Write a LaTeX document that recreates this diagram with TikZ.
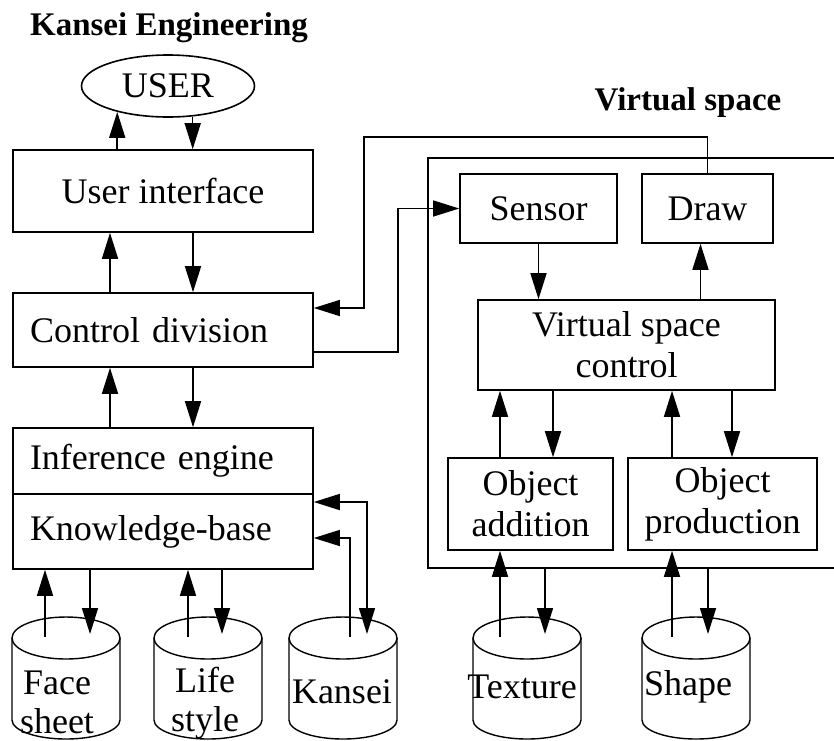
\documentclass[tikz,border=0pt]{standalone}
\usepackage{fontspec}
\setmainfont{Liberation Serif}
\usetikzlibrary{arrows.meta,shapes.geometric}

\begin{document}
\begin{tikzpicture}[x=1pt,y=-1pt,line width=1.6pt,
  arr/.style={-{Triangle[length=26pt,width=16pt]}},
  arrs/.style={{Triangle[length=26pt,width=16pt]}-{Triangle[length=26pt,width=16pt]}},
  box/.style={draw,rectangle,inner sep=0pt,font=\fontsize{36}{41}\selectfont,align=center},
  lbox/.style={box,align=left,inner xsep=17pt,text width=266pt},
  head/.style={font=\bfseries\fontsize{33}{36}\selectfont},
  lbl/.style={inner sep=0pt,font=\fontsize{36}{39}\selectfont,align=center}]
\useasboundingbox (0,0) rectangle (834,740);
% titles
\node[head] (title) at (169,28) {Kansei Engineering};
\node[head] (vslabel) at (688,103) {Virtual space};
% left column
\node[draw,ellipse,inner sep=0pt,minimum width=173pt,minimum height=62pt,
  font=\fontsize{36}{41}\selectfont] (user) at (168,86) {USER};
\node[box,minimum width=300pt,minimum height=82pt] (ui) at (163,191) {User interface};
\node[lbox,minimum height=74pt] (cd) at (163,330) {Control division};
\node[lbox,minimum height=66pt] (ie) at (163,461) {Inference engine};
\node[lbox,minimum height=75pt] (kb) at (163,531.5) {Knowledge-base};
% virtual space frame
\draw (834,158) -- (428,158) -- (428,568) -- (834,568);
\coordinate (frameSW) at (428,568);
\node[box,minimum width=157pt,minimum height=69pt] (sensor) at (538.5,208.5) {Sensor};
\node[box,minimum width=131pt,minimum height=69pt] (draw) at (707.5,208.5) {Draw};
\node[box,minimum width=297pt,minimum height=90pt] (vsc) at (626.5,345) {Virtual space\\control};
\node[box,minimum width=165pt,minimum height=92pt] (oa) at (530.5,504) {Object\\addition};
\node[box,minimum width=189pt,minimum height=92pt] (op) at (722.5,504) {Object\\production};
% databases
\foreach \cx in {66,208,343,527,696}{
  \draw[line width=1.4pt] (\cx-54,638) -- (\cx-54,720)
    arc[start angle=180,end angle=360,x radius=54pt,y radius=19pt] -- (\cx+54,638);
  \draw[line width=1.4pt] (\cx,638) ellipse[x radius=54pt,y radius=21pt];
}
\node[lbl] (face) at (57,702) {Face\\sheet};
\node[lbl] (life) at (205,703) {Life\\style};
\node[lbl] (kansei) at (342,692) {Kansei};
\node[lbl] (texture) at (522,687) {Texture};
\node[lbl] (shape) at (688,687) {Shape};
\coordinate (fsU) at (45,637);
\coordinate (fsD) at (90,634);
\coordinate (lsU) at (188,637);
\coordinate (lsD) at (222,634);
\coordinate (kaU) at (350,637);
\coordinate (kaD) at (367,634);
\coordinate (txU) at (500,637);
\coordinate (txD) at (545,634);
\coordinate (shU) at (672,637);
\coordinate (shD) at (708,634);
\coordinate (bendA) at (364,137);
\coordinate (bendB) at (398,0);
% connectors
\draw[arr] (ui.north -| user.207) -- (user.207);
\draw[arr] (user.309) -- (ui.north -| user.309);
\draw[arr] ([xshift=-53pt]cd.north) -- ([xshift=-53pt]ui.south);
\draw[arr] ([xshift=30pt]ui.south) -- ([xshift=30pt]cd.north);
\draw[arr] ([xshift=-53pt]ie.north) -- ([xshift=-53pt]cd.south);
\draw[arr] ([xshift=30pt]cd.south) -- ([xshift=30pt]ie.north);
\draw[arr] (fsU) -- (fsU |- kb.south);
\draw[arr] (fsD |- kb.south) -- (fsD);
\draw[arr] (lsU) -- (lsU |- kb.south);
\draw[arr] (lsD |- kb.south) -- (lsD);
\draw[arr,line width=1.2pt] (kaU) |- ([yshift=-6.5pt]kb.east);
\draw[arrs] ([yshift=29.5pt]kb.east) -| (kaD);
\draw[arr,line width=1.3pt] (draw.north) |- (bendA) |- ([yshift=22pt]cd.east);
\draw[arr,line width=1.3pt] ([yshift=-22pt]cd.east) -| (bendB |- sensor.west) -- (sensor.west);
\draw[arr] (sensor.south) -- (sensor.south |- vsc.north);
\draw[arr] ([xshift=-7pt]draw.south |- vsc.north) -- ([xshift=-7pt]draw.south);
\draw[arr] ([xshift=-30.5pt]oa.north) -- ([xshift=-30.5pt]oa.north |- vsc.south);
\draw[arr] ([xshift=22.5pt]oa.north |- vsc.south) -- ([xshift=22.5pt]oa.north);
\draw[arr] ([xshift=-50.5pt]op.north) -- ([xshift=-50.5pt]op.north |- vsc.south);
\draw[arr] ([xshift=9.5pt]op.north |- vsc.south) -- ([xshift=9.5pt]op.north);
\draw[arr] (txU) -- (txU |- oa.south);
\draw[arr] (txD |- frameSW) -- (txD);
\draw[arr] (shU) -- (shU |- op.south);
\draw[arr] (shD |- frameSW) -- (shD);
\end{tikzpicture}
\end{document}
